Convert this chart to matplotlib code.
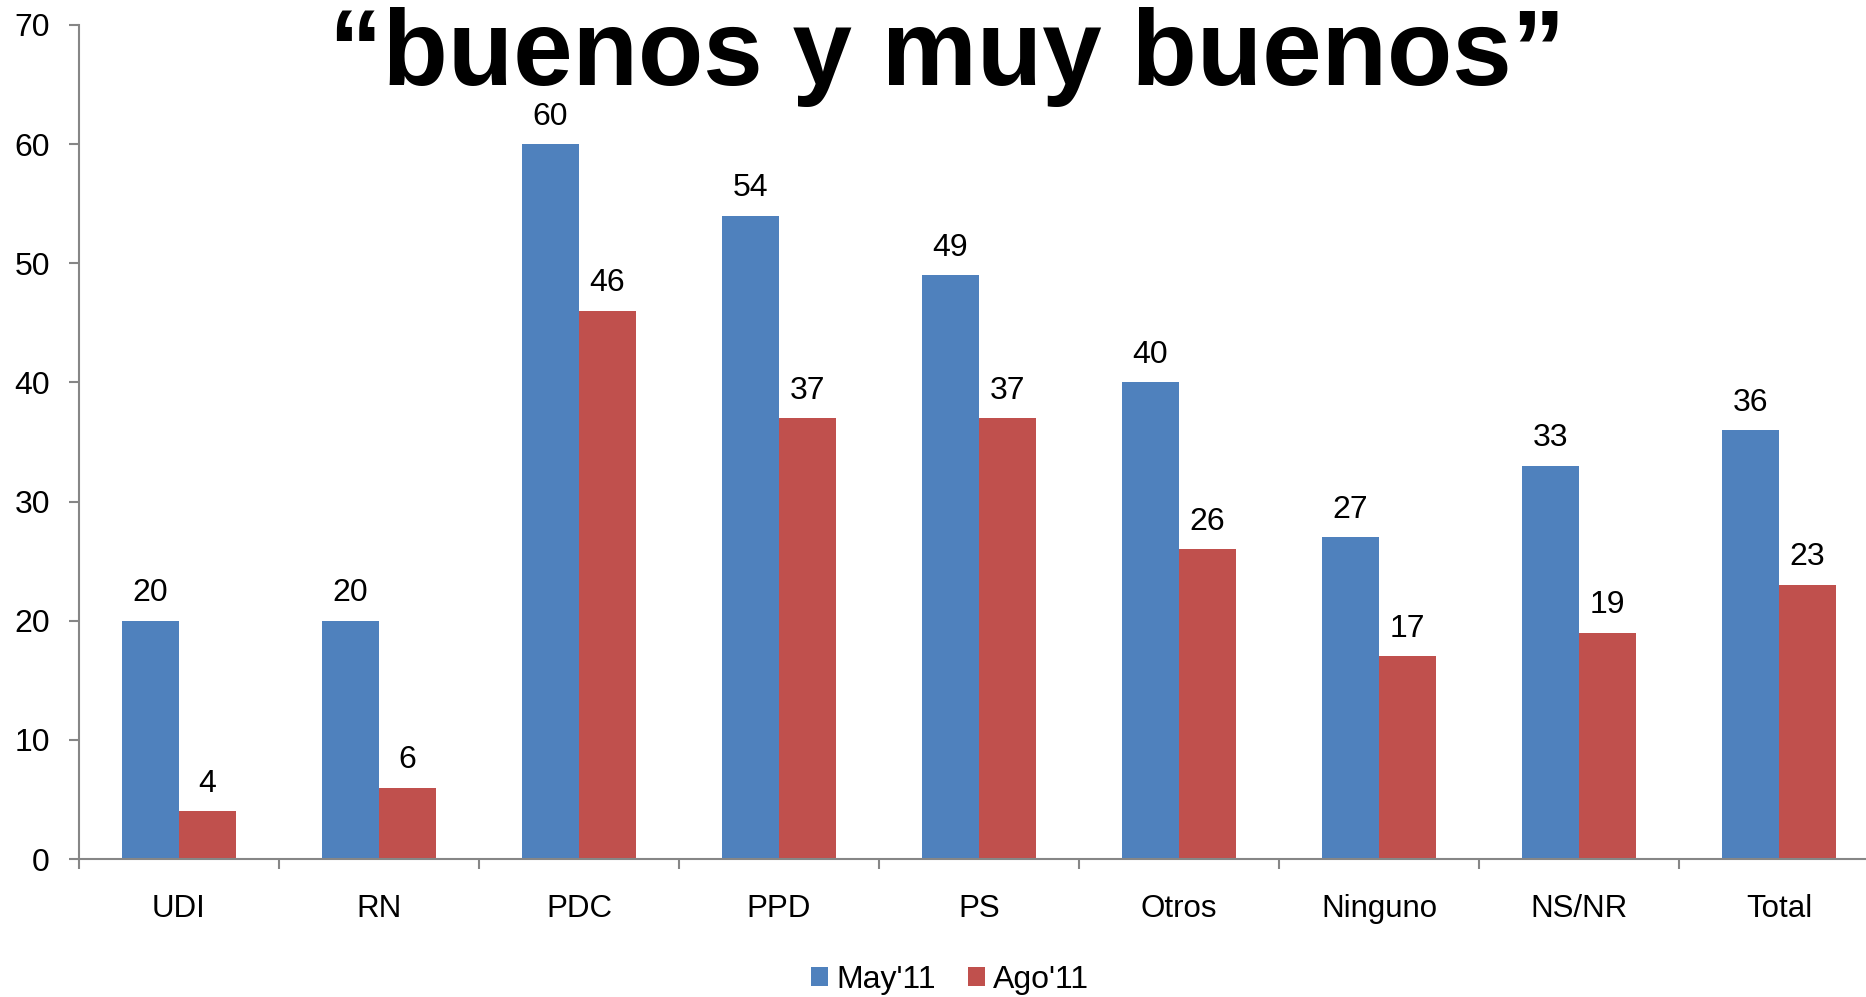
import matplotlib
matplotlib.use("Agg")
import matplotlib.pyplot as plt
import numpy as np

# data
categories = ['UDI', 'RN', 'PDC', 'PPD', 'PS', 'Otros', 'Ninguno', 'NS/NR', 'Total']
may11 = [20, 20, 60, 54, 49, 40, 27, 33, 36]
ago11 = [4, 6, 46, 37, 37, 26, 17, 19, 23]
series_names = ["May'11", "Ago'11"]
title = '\u201cbuenos y muy buenos\u201d'

plt.rcParams['font.family'] = ['Liberation Sans', 'DejaVu Sans']

blue = '#4F81BD'
red = '#C0504D'
axis_grey = '#868686'

fig = plt.figure(figsize=(18.66, 9.97), dpi=100)
ax = fig.add_axes([79 / 1866, 1 - 859 / 997, 1800 / 1866, 834 / 997])

x = np.arange(len(categories))
w = 0.285
b1 = ax.bar(x - w / 2, may11, w, color=blue, label=series_names[0])
b2 = ax.bar(x + w / 2, ago11, w, color=red, label=series_names[1])

# value labels above each bar
for bars in (b1, b2):
    for rect in bars:
        h = rect.get_height()
        ax.annotate('%d' % h, (rect.get_x() + rect.get_width() / 2, h),
                    xytext=(0, 9), textcoords='offset points',
                    ha='center', va='bottom', fontsize=23)

ax.set_xlim(-0.5, len(categories) - 0.5)
ax.set_ylim(0, 70)
ax.set_yticks(range(0, 71, 10))

# category labels at centres, tick marks at boundaries
ax.set_xticks(x)
ax.set_xticklabels(categories)
ax.set_xticks(np.arange(-0.5, len(categories), 1.0), minor=True)
ax.tick_params(axis='x', which='major', length=0, pad=25, labelsize=22.5)
ax.tick_params(axis='x', which='minor', length=7, width=1.5, color=axis_grey, direction='out')
ax.tick_params(axis='y', length=7, width=1.5, color=axis_grey, pad=14, labelsize=23)

for s in ['top', 'right']:
    ax.spines[s].set_visible(False)
for s in ['left', 'bottom']:
    ax.spines[s].set_color(axis_grey)
    ax.spines[s].set_linewidth(1.5)

fig.text(947 / 1866, 1 - 85 / 997, title, ha='center', va='baseline',
         fontsize=77, fontweight='bold')

fig.legend(handles=[b1, b2], loc='center', bbox_to_anchor=(950 / 1866, 1 - 980 / 997),
           ncol=2, frameon=False, fontsize=23, handlelength=0.55, handleheight=0.55,
           handletextpad=0.25, columnspacing=1.0)

fig.savefig('out.png', dpi=100)
